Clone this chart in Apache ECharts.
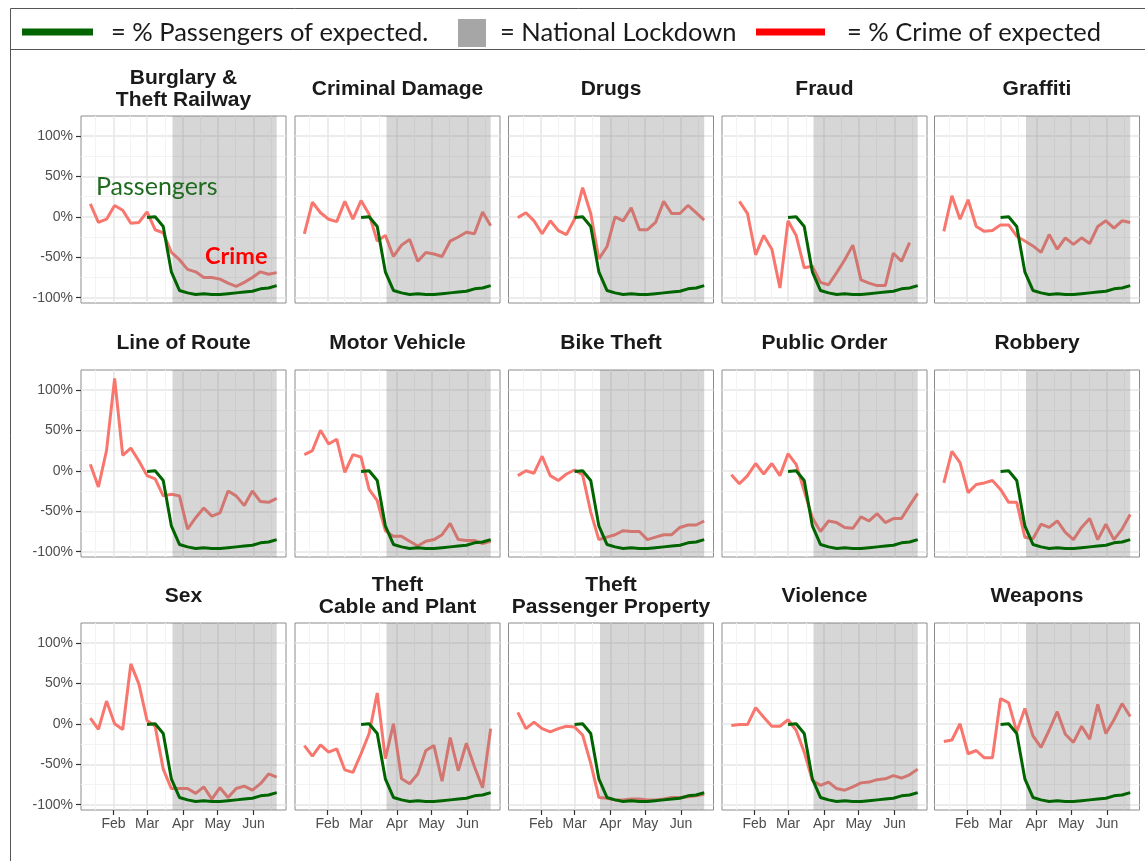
<!DOCTYPE html>
<html><head><meta charset="utf-8">
<script src="https://cdn.jsdelivr.net/npm/echarts@6/dist/echarts.min.js"></script>
<style>html,body{margin:0;padding:0;background:#fff}#c{width:1145px;height:861px}</style>
</head><body><div id="c"></div><script>
// ---- data ----
const weeks = ['2020-01-12','2020-01-19','2020-01-26','2020-02-02','2020-02-09','2020-02-16','2020-02-23',
  '2020-03-01','2020-03-08','2020-03-15','2020-03-22','2020-03-29','2020-04-05','2020-04-12','2020-04-19',
  '2020-04-26','2020-05-03','2020-05-10','2020-05-17','2020-05-24','2020-05-31','2020-06-07','2020-06-14','2020-06-21'];
const passengerWeeks = weeks.slice(7);
const passengers = [-1, 0, -12, -68, -91, -94, -96, -95, -96, -96, -95, -94, -93, -92, -89, -88, -85];

const burglary = [16, -7, -3, 14, 8, -8, -7, 6, -16, -20, -44, -53, -65, -68, -75, -75, -77, -82, -86, -81, -75, -68, -71, -69];
const criminalDamage = [-21, 18, 5, -3, -6, 19, -3, 20, 3, -30, -23, -49, -35, -28, -55, -44, -46, -49, -30, -25, -19, -21, 6, -11];
const drugs = [-1, 5, -5, -21, -5, -17, -22, -3, 36, 4, -52, -37, 0, -5, 11, -16, -16, -7, 19, 4, 4, 14, 5, -4];
const fraud = [null, 19, 4, -47, -23, -40, -88, -5, -23, -63, -61, -81, -84, -69, -53, -35, -78, -82, -85, -85, -45, -55, -32, null];
const graffiti = [-18, 26, -3, 21, -12, -18, -17, -10, -10, -24, -30, -36, -44, -22, -40, -26, -34, -26, -33, -12, -5, -14, -5, -7];
const lineOfRoute = [8, -20, 25, 114, 19, 28, 12, -6, -10, -31, -29, -31, -72, -58, -46, -56, -52, -25, -31, -43, -25, -38, -39, -34];
const motorVehicle = [20, 25, 50, 33, 39, -2, 20, 17, -23, -37, -74, -81, -81, -87, -93, -87, -85, -79, -65, -85, -86, -86, -90, -87];
const bikeTheft = [-6, 0, -3, 18, -6, -12, -4, 1, -5, -51, -85, -82, -79, -74, -75, -75, -85, -82, -79, -79, -70, -67, -67, -62];
const publicOrder = [-5, -16, -6, 9, -4, 9, -6, 21, 8, -25, -58, -75, -62, -64, -70, -71, -57, -62, -53, -64, -59, -59, -43, -28];
const robbery = [-15, 24, 10, -27, -17, -15, -12, -23, -39, -39, -82, -84, -66, -70, -62, -76, -85, -70, -59, -85, -66, -85, -72, -54];
const sex = [7, -7, 28, 0, -7, 74, 49, 4, -3, -56, -80, -80, -80, -86, -78, -93, -79, -91, -80, -77, -82, -74, -62, -66];
const theftCable = [-27, -40, -26, -35, -31, -57, -60, -37, -12, 38, -43, 0, -68, -74, -62, -33, -27, -71, -17, -58, -24, -53, -79, -6];
const theftPassenger = [14, -6, 2, -6, -10, -6, -3, -4, -14, -49, -91, -92, -94, -94, -93, -93, -94, -94, -93, -91, -91, -90, -89, -87];
const violence = [-2, -1, -1, 20, 8, -3, -3, 5, -8, -35, -70, -76, -72, -80, -82, -78, -73, -72, -69, -68, -64, -67, -63, -56];
const weapons = [-22, -20, 0, -37, -33, -42, -42, 31, 26, -10, 19, -15, -29, -8, 15, -13, -23, -3, -19, 24, -12, 5, 25, 9];

const panelTitles = ['Burglary &\nTheft Railway','Criminal Damage','Drugs','Fraud','Graffiti',
  'Line of Route','Motor Vehicle','Bike Theft','Public Order','Robbery',
  'Sex','Theft\nCable and Plant','Theft\nPassenger Property','Violence','Weapons'];
const panelCrime = [burglary, criminalDamage, drugs, fraud, graffiti, lineOfRoute, motorVehicle, bikeTheft,
  publicOrder, robbery, sex, theftCable, theftPassenger, violence, weapons];

const monthStarts = ['2020-01-01','2020-02-01','2020-03-01','2020-04-01','2020-05-01','2020-06-01','2020-07-01'];
const monthLabels = ['Jan','Feb','Mar','Apr','May','Jun','Jul'];
const yBreaks = [-100, -50, 0, 50, 100];
const yMinorBreaks = [-75, -25, 25, 75];
const lockdownStart = '2020-03-23';
const lockdownEnd = '2020-06-21';

// ---- helpers ----
const t = s => Date.parse(s + 'T00:00:00Z');
const monthMs = monthStarts.map(t);
const minorMs = monthMs.slice(0, -1).map((m, i) => (m + monthMs[i + 1]) / 2);
const span = t(weeks[weeks.length - 1]) - t(weeks[0]);
const xMin = t(weeks[0]) - 0.05 * span, xMax = t(weeks[weeks.length - 1]) + 0.05 * span;
const yMin = -106.5, yMax = 124.5;

const colLeft = [81, 295, 508.5, 722, 934.5];
const rowTop = [116, 370, 623];
const W = 205, H = 187;

const grids = [], xAxes = [], yAxes = [], series = [], titles = [];
for (let p = 0; p < 15; p++) {
  const r = Math.floor(p / 5), c = p % 5;
  grids.push({left: colLeft[c], top: rowTop[r], width: W, height: H, show: true,
    borderColor: '#8c8c8c', borderWidth: 1, backgroundColor: 'transparent'});
  const bottom = r === 2, leftCol = c === 0;
  xAxes.push({type: 'value', gridIndex: p, min: xMin, max: xMax, position: 'bottom',
    axisLine: {show: false, onZero: false},
    axisTick: {show: bottom, inside: false, customValues: monthMs, length: 5, lineStyle: {color: '#333', width: 1.2}},
    axisLabel: {show: bottom, customValues: monthMs, margin: 7, color: '#4d4d4d', fontSize: 14,
      fontFamily: 'Liberation Sans', formatter: v => monthLabels[monthMs.indexOf(v)] || ''},
    splitLine: {show: true, lineStyle: {color: '#e6e6e6', width: 1.5}}});
  xAxes.push({type: 'value', gridIndex: p, min: xMin, max: xMax, position: 'top',
    axisLine: {show: false, onZero: false}, axisTick: {show: false, customValues: minorMs},
    axisLabel: {show: false, customValues: minorMs},
    splitLine: {show: true, lineStyle: {color: '#f3f3f3', width: 1}}});
  yAxes.push({type: 'value', gridIndex: p, min: yMin, max: yMax, position: 'left',
    axisLine: {show: false, onZero: false},
    axisTick: {show: leftCol, inside: false, customValues: yBreaks, length: 5, lineStyle: {color: '#333', width: 1.2}},
    axisLabel: {show: leftCol, customValues: yBreaks, margin: 8, color: '#4d4d4d', fontSize: 14,
      fontFamily: 'Liberation Sans', formatter: v => v + '%'},
    splitLine: {show: true, lineStyle: {color: '#e6e6e6', width: 1.5}}});
  yAxes.push({type: 'value', gridIndex: p, min: yMin, max: yMax, position: 'right',
    axisLine: {show: false, onZero: false}, axisTick: {show: false, customValues: yMinorBreaks},
    axisLabel: {show: false, customValues: yMinorBreaks},
    splitLine: {show: true, lineStyle: {color: '#f3f3f3', width: 1}}});

  series.push({type: 'line', name: '% Crime of expected', xAxisIndex: 2 * p, yAxisIndex: 2 * p, z: 2,
    data: weeks.map((d, k) => [t(d), panelCrime[p][k]]), symbol: 'none', silent: true,
    lineStyle: {color: '#F8766D', width: 3}, connectNulls: false});
  series.push({type: 'line', name: 'National Lockdown', xAxisIndex: 2 * p, yAxisIndex: 2 * p, z: 3,
    data: [], silent: true,
    markArea: {silent: true, z: 3, itemStyle: {color: 'rgba(120,120,120,0.3)'},
      data: [[{xAxis: t(lockdownStart)}, {xAxis: t(lockdownEnd)}]]}});
  series.push({type: 'line', name: '% Passengers of expected', xAxisIndex: 2 * p, yAxisIndex: 2 * p, z: 4,
    data: passengerWeeks.map((d, k) => [t(d), passengers[k]]), symbol: 'none', silent: true,
    lineStyle: {color: '#006400', width: 3}});

  const nLines = panelTitles[p].split('\n').length;
  const cy = rowTop[r] - 27;
  titles.push({text: panelTitles[p], left: colLeft[c] + W / 2, top: cy - nLines * 11, padding: 0,
    textAlign: 'center',
    textStyle: {fontFamily: 'Liberation Sans', fontWeight: 'bold', fontSize: 21, lineHeight: 22, color: '#1a1a1a'}});
}

const legendFont = '25.5px Lato';
const graphic = [
  {type: 'rect', silent: true, shape: {x: 10.5, y: 8.5, width: 1300, height: 1000}, style: {fill: null, stroke: '#555', lineWidth: 1}},
  {type: 'line', silent: true, shape: {x1: 10, y1: 49.5, x2: 1145, y2: 49.5}, style: {stroke: '#555', lineWidth: 1}},
  {type: 'line', silent: true, shape: {x1: 22, y1: 32, x2: 93, y2: 32}, style: {stroke: '#006400', lineWidth: 7}},
  {type: 'text', silent: true, x: 111, y: 33, style: {text: '= % Passengers of expected.', font: legendFont, fill: '#1a1a1a', verticalAlign: 'middle'}},
  {type: 'rect', silent: true, shape: {x: 458, y: 19, width: 28, height: 28}, style: {fill: '#a6a6a6'}},
  {type: 'text', silent: true, x: 500, y: 33, style: {text: '= National Lockdown', font: legendFont, fill: '#1a1a1a', verticalAlign: 'middle'}},
  {type: 'line', silent: true, shape: {x1: 756, y1: 32, x2: 825, y2: 32}, style: {stroke: '#ff0000', lineWidth: 7}},
  {type: 'text', silent: true, x: 847, y: 33, style: {text: '= % Crime of expected', font: legendFont, fill: '#1a1a1a', verticalAlign: 'middle'}},
  {type: 'text', silent: true, z: 10, x: 96, y: 187, style: {text: 'Passengers', font: '25px Lato', fill: '#1f6b1f', verticalAlign: 'middle'}},
  {type: 'text', silent: true, z: 10, x: 205, y: 256, style: {text: 'Crime', font: 'bold 23.5px Lato', fill: '#ff0000', verticalAlign: 'middle'}}
];

const chart = echarts.init(document.getElementById('c'), null, {renderer: 'canvas'});
chart.setOption({animation: false, backgroundColor: '#ffffff', title: titles, grid: grids,
  xAxis: xAxes, yAxis: yAxes, series: series, graphic: graphic});
</script></body></html>
